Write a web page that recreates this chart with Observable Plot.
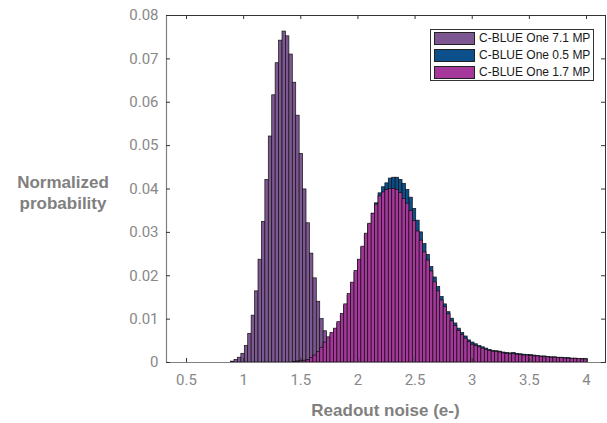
<!DOCTYPE html>
<html><head><meta charset="utf-8">
<script src="https://cdn.jsdelivr.net/npm/d3@7"></script>
<script src="https://cdn.jsdelivr.net/npm/@observablehq/plot@0.6"></script>
<style>
body{margin:0;background:#fff;}
#wrap{position:relative;width:607px;height:423px;font-family:"Liberation Sans",Arial,sans-serif;}
#wrap svg{position:absolute;left:0;top:0;}
.lab{position:absolute;color:#808080;font-weight:bold;font-size:17px;line-height:21px;text-align:center;}
#ylab{left:8px;top:172px;width:110px;}
#xlab{left:166px;top:400px;width:439px;}
#legend{position:absolute;left:430px;top:29px;width:162px;height:50px;border:1px solid #333;background:#fff;font-size:12px;color:#1a1a1a;}
.row{position:absolute;left:3px;height:12px;display:flex;align-items:center;}
.sw{width:39px;height:11px;border:1px solid #222;margin-right:4px;}
</style></head><body><div id="wrap"></div>
<script>
// Data: normalized probability per bin (bin k spans binStart + k*binWidth)
const binStart = 0.89;
const binWidth = 0.03;
const seriesNames = ["C-BLUE One 7.1 MP", "C-BLUE One 0.5 MP", "C-BLUE One 1.7 MP"];
const seriesColors = ["#7d5791", "#0b4f8b", "#a6379b"];

const mp71Start = 0;
const mp71 = [0.0002,0.0006,0.0011,0.0020,0.0038,0.0066,0.0108,0.0164,0.0237,0.0324,
  0.0421,0.0521,0.0616,0.0690,0.0742,0.0763,0.0752,0.0710,0.0645,0.0569,
  0.0481,0.0399,0.0321,0.0251,0.0194,0.0140,0.0100,0.0072,0.0052,0.0036,
  0.0024,0.0015,0.0009,0.0005,0.0003,0.0001];

const mp05Start = 18;
const mp05 = [0.0001,0.0002,0.0003,0.0004,0.0005,0.0009,0.0015,0.0022,0.0031,0.0043,
  0.0054,0.0064,0.0075,0.0090,0.0108,0.0130,0.0154,0.0180,0.0207,0.0234,
  0.0264,0.0294,0.0318,0.0343,0.0367,0.0390,0.0404,0.0413,0.0424,0.0426,
  0.0426,0.0421,0.0412,0.0398,0.0380,0.0354,0.0327,0.0300,0.0273,0.0248,
  0.0220,0.0196,0.0174,0.0151,0.0134,0.0116,0.0101,0.0090,0.0078,0.0068,
  0.0060,0.0051,0.0046,0.0042,0.0038,0.0035,0.0032,0.0029,0.0027,0.0026,
  0.0025,0.0023,0.0022,0.0021,0.0022,0.0020,0.0019,0.0018,0.0017,0.0017,
  0.0016,0.0015,0.0014,0.0014,0.0013,0.0012,0.0012,0.0011,0.0011,0.0010,
  0.0010,0.0009,0.0009,0.0008,0.0008,0.0008];

const mp17Start = 18;
const mp17 = [0.0001,0.0002,0.0003,0.0004,0.0005,0.0010,0.0016,0.0024,0.0034,0.0046,
  0.0058,0.0068,0.0078,0.0093,0.0112,0.0134,0.0158,0.0184,0.0211,0.0237,
  0.0267,0.0297,0.0320,0.0343,0.0364,0.0383,0.0392,0.0398,0.0400,0.0400,
  0.0398,0.0391,0.0377,0.0366,0.0349,0.0326,0.0302,0.0281,0.0254,0.0235,
  0.0210,0.0185,0.0164,0.0143,0.0128,0.0111,0.0095,0.0084,0.0073,0.0063,
  0.0055,0.0047,0.0041,0.0038,0.0035,0.0032,0.0029,0.0027,0.0025,0.0024,
  0.0023,0.0021,0.0020,0.0019,0.0019,0.0018,0.0017,0.0016,0.0016,0.0015,
  0.0014,0.0014,0.0013,0.0012,0.0012,0.0011,0.0011,0.0010,0.0010,0.0009,
  0.0009,0.0008,0.0008,0.0008,0.0007,0.0007];

const xTicks = [0.5, 1, 1.5, 2, 2.5, 3, 3.5, 4];
const yTicks = [0, 0.01, 0.02, 0.03, 0.04, 0.05, 0.06, 0.07, 0.08];
const xDomain = [0.325, 4.166];
const yDomain = [0, 0.08];

function toRows(vals, start, name) {
  return vals.map((v, i) => ({
    series: name,
    x1: binStart + (start + i) * binWidth,
    x2: binStart + (start + i + 1) * binWidth,
    y: v
  }));
}
const rows71 = toRows(mp71, mp71Start, seriesNames[0]);
const rows05 = toRows(mp05, mp05Start, seriesNames[1]);
const rows17 = toRows(mp17, mp17Start, seriesNames[2]);

const W = 607, H = 423, mT = 15, mB = 61, mL = 166, mR = 2;
const plotH = H - mT - mB, plotW = W - mL - mR;
const tickLen = 4;
const tickColor = "#333";

const chart = Plot.plot({
  width: W, height: H,
  marginTop: mT, marginBottom: mB, marginLeft: mL, marginRight: mR,
  style: {fontFamily: "Roboto, sans-serif", fontSize: "15px", color: "#888", background: "#fff"},
  x: {domain: xDomain},
  y: {domain: yDomain},
  marks: [
    Plot.rectY(rows71, {x1: "x1", x2: "x2", y: "y", fill: seriesColors[0], stroke: "#111", strokeWidth: 0.7}),
    Plot.rectY(rows05, {x1: "x1", x2: "x2", y: "y", fill: seriesColors[1], stroke: "#111", strokeWidth: 0.7}),
    Plot.rectY(rows17, {x1: "x1", x2: "x2", y: "y", fill: seriesColors[2], stroke: "#111", strokeWidth: 0.7}),
    Plot.frame({stroke: "#333", strokeWidth: 1}),
    Plot.ruleY([yDomain[0]], {stroke: "#808080", strokeWidth: 1.2}),
    Plot.ruleX([xDomain[0]], {stroke: "#808080", strokeWidth: 1.2}),
    Plot.tickX(xTicks, {x: d => d, insetTop: plotH - tickLen, stroke: tickColor}),
    Plot.tickX(xTicks, {x: d => d, insetBottom: plotH - tickLen, stroke: tickColor}),
    Plot.tickY(yTicks, {y: d => d, insetRight: plotW - tickLen, stroke: tickColor}),
    Plot.tickY(yTicks, {y: d => d, insetLeft: plotW - tickLen, stroke: tickColor}),
    Plot.axisX(xTicks, {tickSize: 0, tickPadding: 12, label: null, fill: "#888",
      tickFormat: d => String(d)}),
    Plot.axisY(yTicks, {tickSize: 0, tickPadding: 8, label: null, fill: "#888",
      tickFormat: d => d === 0 ? "0" : d3.format(".2f")(d)})
  ]
});
const wrap = document.getElementById("wrap");
wrap.appendChild(chart);

const ylab = document.createElement("div");
ylab.id = "ylab"; ylab.className = "lab";
ylab.innerHTML = "Normalized<br>probability";
wrap.appendChild(ylab);
const xlab = document.createElement("div");
xlab.id = "xlab"; xlab.className = "lab";
xlab.textContent = "Readout noise (e-)";
wrap.appendChild(xlab);

const legend = document.createElement("div");
legend.id = "legend";
seriesNames.forEach((name, i) => {
  const row = document.createElement("div");
  row.className = "row";
  row.style.top = (2 + i * 17) + "px";
  const sw = document.createElement("div");
  sw.className = "sw";
  sw.style.background = seriesColors[i];
  row.appendChild(sw);
  const t = document.createElement("span");
  t.textContent = name;
  row.appendChild(t);
  legend.appendChild(row);
});
wrap.appendChild(legend);
</script>
</body></html>
